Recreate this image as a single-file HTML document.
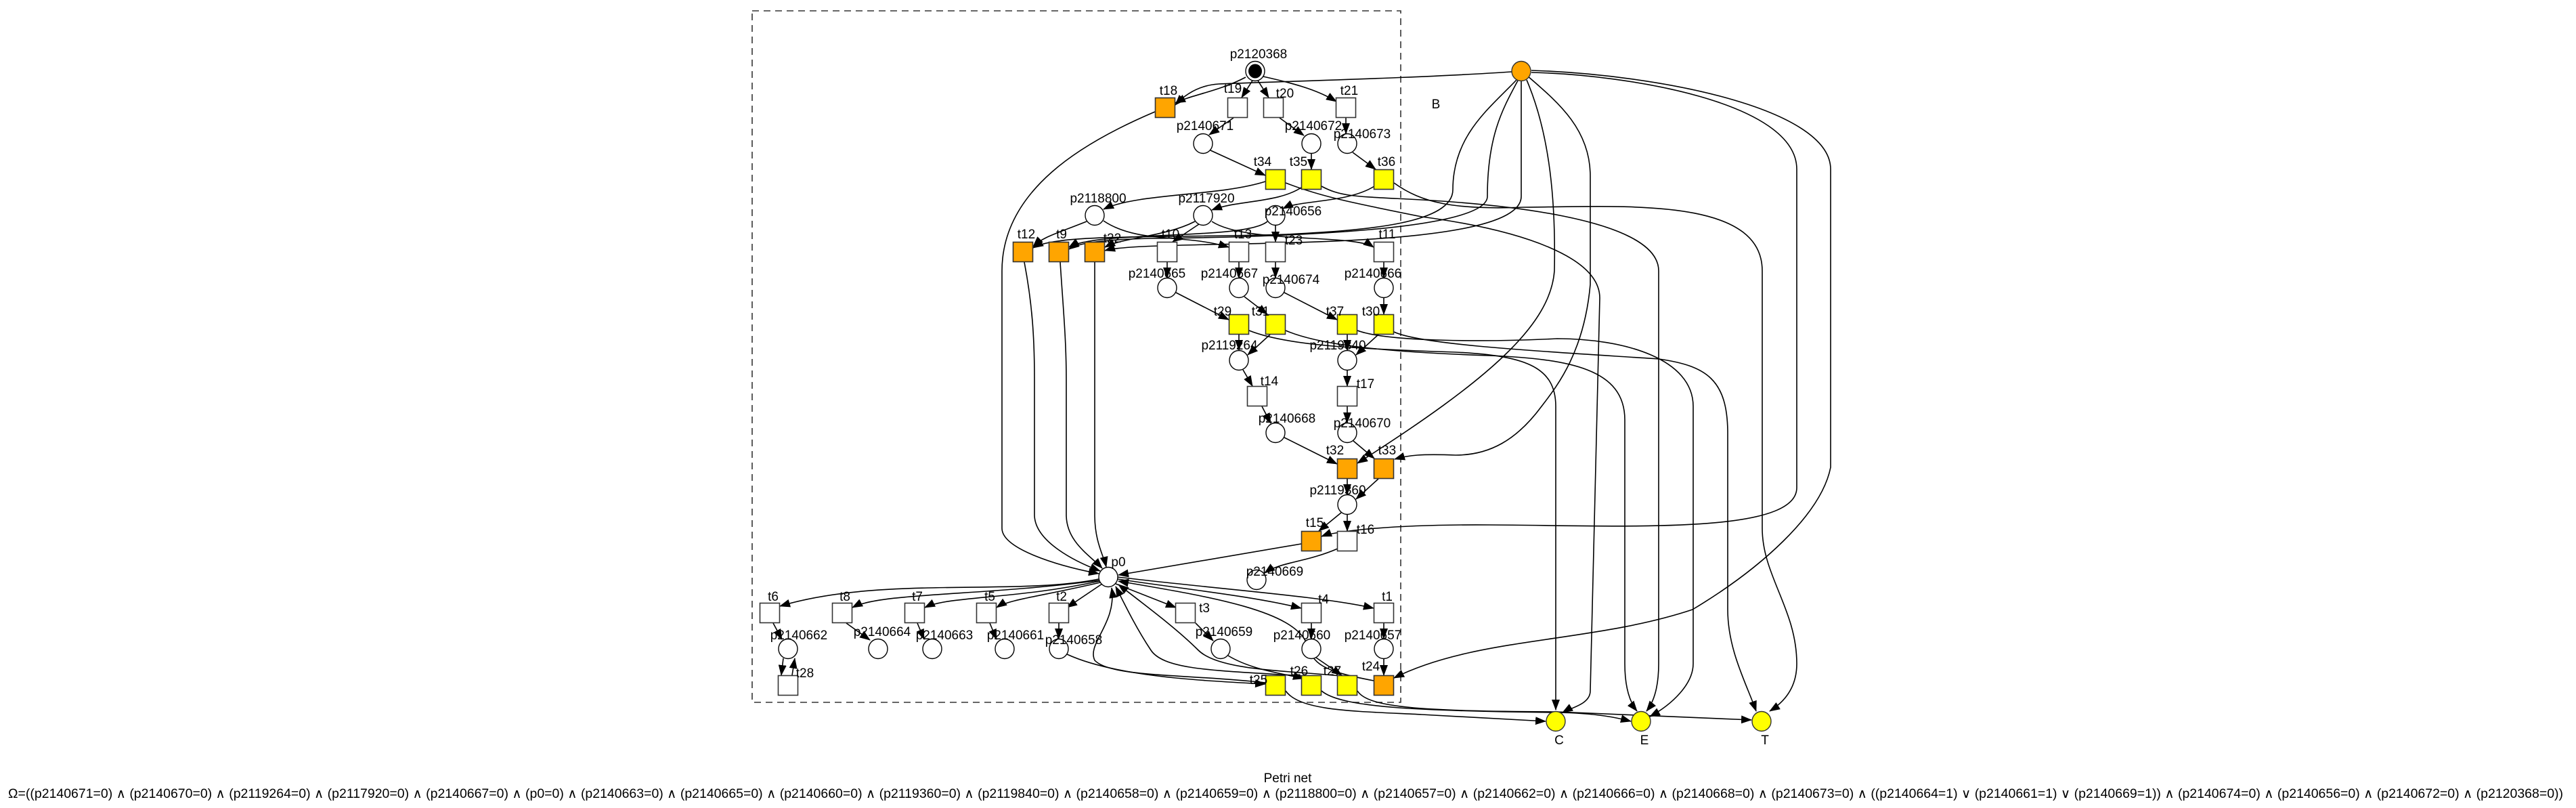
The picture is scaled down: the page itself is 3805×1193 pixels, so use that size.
<!DOCTYPE html>
<html><head><meta charset="utf-8"><style>
html,body{margin:0;padding:0;background:#fff;}
svg{display:block;}
text{font-family:"Liberation Sans",sans-serif;font-size:19px;fill:#000;}
.e{fill:none;stroke:#000;stroke-width:1.6;marker-end:url(#a);}
.t{stroke:#333;stroke-width:1.6;}
.p{fill:#fff;stroke:#000;stroke-width:1.4;}
</style></head><body>
<svg width="3805" height="1193" viewBox="0 0 3805 1193" xmlns="http://www.w3.org/2000/svg">
<defs><marker id="a" markerUnits="userSpaceOnUse" markerWidth="16" markerHeight="12" refX="15" refY="6" orient="auto"><path d="M0,0 L16,6 L0,12 z" fill="#000"/></marker></defs>
<rect x="1111" y="16" width="958" height="1021" fill="none" stroke="#333" stroke-width="1.6" stroke-dasharray="10,7"/>

<!-- edges -->
<g>
<path class="e" d="M1840,114 C1800,135 1760,140 1736,152"/>
<path class="e" d="M2233,106 C2100,115 1900,120 1800,124 C1770,126 1750,140 1736,155"/>
<path class="e" d="M1850,119 L1834,144"/>
<path class="e" d="M1858,119 L1874,144"/>
<path class="e" d="M1866,113 C1920,125 1950,135 1974,150"/>
<path class="e" d="M1822,174 L1786,199"/>
<path class="e" d="M1890,174 L1926,200"/>
<path class="e" d="M1988,174 L1988,197"/>
<path class="e" d="M1788,222 L1869,259"/>
<path class="e" d="M1937,227 L1937,250"/>
<path class="e" d="M1998,225 L2032,250"/>
<path class="e" d="M1869,268 C1800,290 1680,285 1630,309"/>
<path class="e" d="M1925,275 C1890,300 1830,295 1790,310"/>
<path class="e" d="M2030,275 C1990,300 1920,295 1895,308"/>
<path class="e" d="M1605,327 C1560,345 1540,350 1526,364"/>
<path class="e" d="M1630,326 C1680,360 1750,345 1815,365"/>
<path class="e" d="M1765,327 C1720,350 1660,350 1632,365"/>
<path class="e" d="M1771,331 L1732,357"/>
<path class="e" d="M1790,327 C1840,360 2000,345 2029,365"/>
<path class="e" d="M1884,333 L1884,357"/>
<path class="e" d="M1872,327 C1840,355 1620,340 1579,365"/>
<path class="e" d="M2240,118 C2200,160 2146,200 2146,280 C2146,330 2020,340 1900,346 C1700,352 1560,345 1526,366"/>
<path class="e" d="M2242,119 C2220,160 2197,200 2197,290 C2197,340 1900,350 1700,352 C1620,354 1590,360 1579,368"/>
<path class="e" d="M2247,120 L2247,290 C2247,380 1700,350 1632,370"/>
<path class="e" d="M1706,165 C1600,210 1480,280 1480,400 L1480,780 C1480,810 1560,835 1623,847"/>
<path class="e" d="M1513,387 C1525,450 1528,500 1528,560 L1528,760 C1528,800 1590,830 1625,843"/>
<path class="e" d="M1566,387 C1570,450 1575,500 1575,560 L1575,760 C1575,800 1610,820 1628,839"/>
<path class="e" d="M1617,387 L1617,760 C1617,800 1630,820 1634,837"/>
<path class="e" d="M1724,387 L1724,410"/>
<path class="e" d="M1830,387 L1830,410"/>
<path class="e" d="M1884,387 L1884,410"/>
<path class="e" d="M2044,387 L2044,410"/>
<path class="e" d="M1737,432 L1815,472"/>
<path class="e" d="M1838,438 L1872,464"/>
<path class="e" d="M1897,432 L1975,472"/>
<path class="e" d="M2044,440 L2044,464"/>
<path class="e" d="M1830,494 L1830,517"/>
<path class="e" d="M1876,494 L1843,524"/>
<path class="e" d="M1990,494 L1990,517"/>
<path class="e" d="M2036,494 L2003,524"/>
<path class="e" d="M1836,546 L1850,570"/>
<path class="e" d="M1990,547 L1990,570"/>
<path class="e" d="M1864,600 L1877,625"/>
<path class="e" d="M1990,600 L1990,624"/>
<path class="e" d="M1897,646 L1975,685"/>
<path class="e" d="M1999,651 L2030,677"/>
<path class="e" d="M1990,707 L1990,730"/>
<path class="e" d="M2036,707 L2003,737"/>
<path class="e" d="M1981,757 L1948,784"/>
<path class="e" d="M1990,760 L1990,784"/>
<path class="e" d="M1976,810 C1930,830 1890,830 1868,846"/>
<path class="e" d="M1922,803 L1652,849"/>
<!-- from B -->
<path class="e" d="M2255,118 C2290,200 2298,300 2296,400 C2290,480 2200,560 2005,684"/>
<path class="e" d="M2256,112 C2300,150 2349,190 2349,260 L2349,420 C2340,520 2300,570 2277,600 C2240,650 2200,672 2150,672 C2100,670 2080,672 2060,678"/>
<path class="e" d="M2262,107 C2400,110 2654,150 2654,250 L2654,720 C2654,790 2400,776 2200,775 C2050,774 1970,785 1952,792"/>
<path class="e" d="M2262,104 C2450,110 2704,160 2704,250 L2704,690 C2690,760 2600,840 2500,900 C2350,950 2180,940 2059,1001"/>
<!-- yellow to CET -->
<path class="e" d="M1899,270 C1950,290 2000,300 2100,320 C2250,340 2363,380 2363,440 L2349,1020 C2349,1040 2320,1045 2308,1052"/>
<path class="e" d="M1952,275 C1980,290 2000,290 2080,294 C2200,300 2450,320 2450,400 L2450,980 C2450,1020 2440,1040 2432,1050"/>
<path class="e" d="M2059,270 C2100,300 2150,310 2250,306 C2400,305 2603,290 2603,400 L2603,780 C2603,850 2654,900 2654,980 C2654,1020 2630,1040 2614,1050"/>
<path class="e" d="M1845,488 C1900,510 2000,515 2150,520 C2250,525 2298,540 2298,600 L2298,1048"/>
<path class="e" d="M1899,488 C1950,510 2050,520 2200,525 C2320,530 2400,545 2400,620 L2400,980 C2400,1020 2410,1040 2418,1050"/>
<path class="e" d="M2005,488 C2050,505 2200,505 2300,500 C2400,500 2501,530 2501,600 L2501,980 C2501,1010 2470,1040 2437,1058"/>
<path class="e" d="M2059,490 C2100,510 2300,520 2450,530 C2520,540 2552,560 2552,640 L2552,900 C2552,960 2580,1010 2594,1050"/>
<path class="e" d="M1899,1020 C1920,1050 2000,1050 2100,1055 L2283,1065"/>
<path class="e" d="M1952,1020 C1980,1045 2100,1050 2300,1052 C2360,1053 2390,1060 2409,1065"/>
<path class="e" d="M2005,1020 C2020,1045 2100,1050 2300,1051 L2587,1063"/>
<!-- bottom -->
<path class="e" d="M1576,966 C1650,1000 1780,1005 1869,1010"/>
<path class="e" d="M1814,968 C1850,990 1900,995 1925,1002"/>
<path class="e" d="M1944,971 L1982,997"/>
<path class="e" d="M2044,973 L2044,997"/>
<path class="e" d="M1869,1008 C1750,995 1640,1000 1617,975 C1605,950 1650,920 1642,868"/>
<path class="e" d="M1925,998 C1800,990 1720,990 1700,960 C1680,930 1665,900 1648,866"/>
<path class="e" d="M1980,998 C1900,990 1800,990 1770,960 C1740,930 1700,900 1652,863"/>
<path class="e" d="M2029,1005 C1950,990 1940,980 1930,950 C1910,900 1780,880 1652,858"/>
<path class="e" d="M1623,855 C1500,880 1300,850 1152,895"/>
<path class="e" d="M1623,857 C1450,880 1300,875 1259,897"/>
<path class="e" d="M1624,858 C1500,885 1400,880 1366,897"/>
<path class="e" d="M1625,860 C1540,880 1490,885 1472,897"/>
<path class="e" d="M1628,862 L1576,897"/>
<path class="e" d="M1648,862 L1737,897"/>
<path class="e" d="M1651,855 C1750,870 1850,880 1922,898"/>
<path class="e" d="M1651,852 C1800,870 1950,880 2029,898"/>
<path class="e" d="M1142,920 L1155,944"/>
<path class="e" d="M1250,920 L1285,945"/>
<path class="e" d="M1355,920 L1365,944"/>
<path class="e" d="M1462,920 L1472,944"/>
<path class="e" d="M1564,920 L1564,943"/>
<path class="e" d="M1766,920 L1792,946"/>
<path class="e" d="M1937,920 L1937,943"/>
<path class="e" d="M2044,920 L2044,943"/>
<path class="e" d="M1157,972 L1154,997"/>
<path class="e" d="M1170,997 L1174,972"/>
</g>

<!-- transitions -->
<g class="t">
<rect x="1706.5" y="144.5" width="29" height="29" fill="#ffa500"/>
<rect x="1813.5" y="144.5" width="29" height="29" fill="#fff"/>
<rect x="1866.5" y="144.5" width="29" height="29" fill="#fff"/>
<rect x="1973.5" y="144.5" width="29" height="29" fill="#fff"/>
<rect x="1869.5" y="250.5" width="29" height="29" fill="#ffff00"/>
<rect x="1922.5" y="250.5" width="29" height="29" fill="#ffff00"/>
<rect x="2029.5" y="250.5" width="29" height="29" fill="#ffff00"/>
<rect x="1496.5" y="357.5" width="29" height="29" fill="#ffa500"/>
<rect x="1549.5" y="357.5" width="29" height="29" fill="#ffa500"/>
<rect x="1602.5" y="357.5" width="29" height="29" fill="#ffa500"/>
<rect x="1709.5" y="357.5" width="29" height="29" fill="#fff"/>
<rect x="1815.5" y="357.5" width="29" height="29" fill="#fff"/>
<rect x="1869.5" y="357.5" width="29" height="29" fill="#fff"/>
<rect x="2029.5" y="357.5" width="29" height="29" fill="#fff"/>
<rect x="1815.5" y="464.5" width="29" height="29" fill="#ffff00"/>
<rect x="1869.5" y="464.5" width="29" height="29" fill="#ffff00"/>
<rect x="1975.5" y="464.5" width="29" height="29" fill="#ffff00"/>
<rect x="2029.5" y="464.5" width="29" height="29" fill="#ffff00"/>
<rect x="1842.5" y="570.5" width="29" height="29" fill="#fff"/>
<rect x="1975.5" y="570.5" width="29" height="29" fill="#fff"/>
<rect x="1975.5" y="677.5" width="29" height="29" fill="#ffa500"/>
<rect x="2029.5" y="677.5" width="29" height="29" fill="#ffa500"/>
<rect x="1922.5" y="784.5" width="29" height="29" fill="#ffa500"/>
<rect x="1975.5" y="784.5" width="29" height="29" fill="#fff"/>
<rect x="1122.5" y="890.5" width="29" height="29" fill="#fff"/>
<rect x="1229.5" y="890.5" width="29" height="29" fill="#fff"/>
<rect x="1336.5" y="890.5" width="29" height="29" fill="#fff"/>
<rect x="1442.5" y="890.5" width="29" height="29" fill="#fff"/>
<rect x="1549.5" y="890.5" width="29" height="29" fill="#fff"/>
<rect x="1736.5" y="890.5" width="29" height="29" fill="#fff"/>
<rect x="1922.5" y="890.5" width="29" height="29" fill="#fff"/>
<rect x="2029.5" y="890.5" width="29" height="29" fill="#fff"/>
<rect x="1149.5" y="997.5" width="29" height="29" fill="#fff"/>
<rect x="1869.5" y="997.5" width="29" height="29" fill="#ffff00"/>
<rect x="1922.5" y="997.5" width="29" height="29" fill="#ffff00"/>
<rect x="1975.5" y="997.5" width="29" height="29" fill="#ffff00"/>
<rect x="2029.5" y="997.5" width="29" height="29" fill="#ffa500"/>
</g>

<!-- places -->
<g>
<ellipse class="p" cx="1854" cy="105" rx="14" ry="14.5"/>
<ellipse cx="1854" cy="105" rx="10" ry="10.5" fill="#000"/>
<ellipse class="p" cx="1777" cy="212" rx="14" ry="14.5"/>
<ellipse class="p" cx="1937" cy="212" rx="14" ry="14.5"/>
<ellipse class="p" cx="1990" cy="212" rx="14" ry="14.5"/>
<ellipse class="p" cx="1617" cy="318" rx="14" ry="14.5"/>
<ellipse class="p" cx="1777" cy="318" rx="14" ry="14.5"/>
<ellipse class="p" cx="1884" cy="318" rx="14" ry="14.5"/>
<ellipse class="p" cx="1724" cy="425" rx="14" ry="14.5"/>
<ellipse class="p" cx="1830" cy="425" rx="14" ry="14.5"/>
<ellipse class="p" cx="1884" cy="425" rx="14" ry="14.5"/>
<ellipse class="p" cx="2044" cy="425" rx="14" ry="14.5"/>
<ellipse class="p" cx="1830" cy="532" rx="14" ry="14.5"/>
<ellipse class="p" cx="1990" cy="532" rx="14" ry="14.5"/>
<ellipse class="p" cx="1884" cy="639" rx="14" ry="14.5"/>
<ellipse class="p" cx="1990" cy="639" rx="14" ry="14.5"/>
<ellipse class="p" cx="1990" cy="745" rx="14" ry="14.5"/>
<ellipse class="p" cx="1637" cy="852" rx="14" ry="14.5"/>
<ellipse class="p" cx="1856" cy="856" rx="14" ry="14.5"/>
<ellipse class="p" cx="1164" cy="958" rx="14" ry="14.5"/>
<ellipse class="p" cx="1297" cy="958" rx="14" ry="14.5"/>
<ellipse class="p" cx="1377" cy="958" rx="14" ry="14.5"/>
<ellipse class="p" cx="1484" cy="958" rx="14" ry="14.5"/>
<ellipse class="p" cx="1564" cy="958" rx="14" ry="14.5"/>
<ellipse class="p" cx="1803" cy="958" rx="14" ry="14.5"/>
<ellipse class="p" cx="1937" cy="958" rx="14" ry="14.5"/>
<ellipse class="p" cx="2044" cy="958" rx="14" ry="14.5"/>
<ellipse cx="2247" cy="105" rx="14" ry="14.5" fill="#ffa500" stroke="#333" stroke-width="1.4"/>
<ellipse cx="2298" cy="1065" rx="14" ry="14.5" fill="#ffff00" stroke="#333" stroke-width="1.4"/>
<ellipse cx="2424" cy="1065" rx="14" ry="14.5" fill="#ffff00" stroke="#333" stroke-width="1.4"/>
<ellipse cx="2602" cy="1065" rx="14" ry="14.5" fill="#ffff00" stroke="#333" stroke-width="1.4"/>
</g>

<!-- labels -->
<g text-anchor="middle">
<text x="1859" y="86">p2120368</text>
<text x="1726" y="140">t18</text><text x="1821" y="137">t19</text><text x="1898" y="144">t20</text><text x="1993" y="140">t21</text>
<text x="1780" y="192">p2140671</text><text x="1940" y="192">p2140672</text><text x="2012" y="204">p2140673</text>
<text x="1865" y="245">t34</text><text x="1918" y="245">t35</text><text x="2048" y="245">t36</text>
<text x="1622" y="299">p2118800</text><text x="1782" y="299">p2117920</text><text x="1910" y="318">p2140656</text>
<text x="1516" y="352">t12</text><text x="1568" y="352">t9</text><text x="1643" y="358">t22</text><text x="1729" y="352">t10</text><text x="1836" y="352">t13</text><text x="1911" y="361">t23</text><text x="2049" y="352">t11</text>
<text x="1709" y="410">p2140665</text><text x="1816" y="410">p2140667</text><text x="1907" y="419">p2140674</text><text x="2028" y="410">p2140666</text>
<text x="1806" y="466">t29</text><text x="1862" y="466">t31</text><text x="1972" y="466">t37</text><text x="2025" y="466">t30</text>
<text x="1816" y="516">p2119264</text><text x="1976" y="516">p2119840</text>
<text x="1875" y="569">t14</text><text x="2017" y="573">t17</text>
<text x="1901" y="624">p2140668</text><text x="2012" y="631">p2140670</text>
<text x="1972" y="671">t32</text><text x="2049" y="671">t33</text>
<text x="1976" y="730">p2119360</text>
<text x="1942" y="778">t15</text><text x="2017" y="788">t16</text>
<text x="1652" y="836">p0</text><text x="1883" y="850">p2140669</text>
<text x="1142" y="887">t6</text><text x="1248" y="887">t8</text><text x="1355" y="887">t7</text><text x="1462" y="887">t5</text><text x="1568" y="887">t2</text><text x="1779" y="904">t3</text><text x="1955" y="891">t4</text><text x="2049" y="887">t1</text>
<text x="1180" y="944">p2140662</text><text x="1303" y="939">p2140664</text><text x="1395" y="944">p2140663</text><text x="1500" y="944">p2140661</text><text x="1586" y="951">p2140658</text><text x="1808" y="939">p2140659</text><text x="1923" y="944">p2140660</text><text x="2028" y="944">p2140657</text>
<text x="1189" y="1000">t28</text><text x="1859" y="1010">t25</text><text x="1919" y="997">t26</text><text x="1968" y="997">t27</text><text x="2025" y="990">t24</text>
<text x="2121" y="160">B</text>
<text x="2303" y="1099">C</text><text x="2429" y="1099">E</text><text x="2607" y="1099">T</text>
<text x="1902" y="1155">Petri net</text>
</g>
<text x="12" y="1178" textLength="3774" lengthAdjust="spacingAndGlyphs">Ω=((p2140671=0) ∧ (p2140670=0) ∧ (p2119264=0) ∧ (p2117920=0) ∧ (p2140667=0) ∧ (p0=0) ∧ (p2140663=0) ∧ (p2140665=0) ∧ (p2140660=0) ∧ (p2119360=0) ∧ (p2119840=0) ∧ (p2140658=0) ∧ (p2140659=0) ∧ (p2118800=0) ∧ (p2140657=0) ∧ (p2140662=0) ∧ (p2140666=0) ∧ (p2140668=0) ∧ (p2140673=0) ∧ ((p2140664=1) ∨ (p2140661=1) ∨ (p2140669=1)) ∧ (p2140674=0) ∧ (p2140656=0) ∧ (p2140672=0) ∧ (p2120368=0))</text>
</svg>
</body></html>
